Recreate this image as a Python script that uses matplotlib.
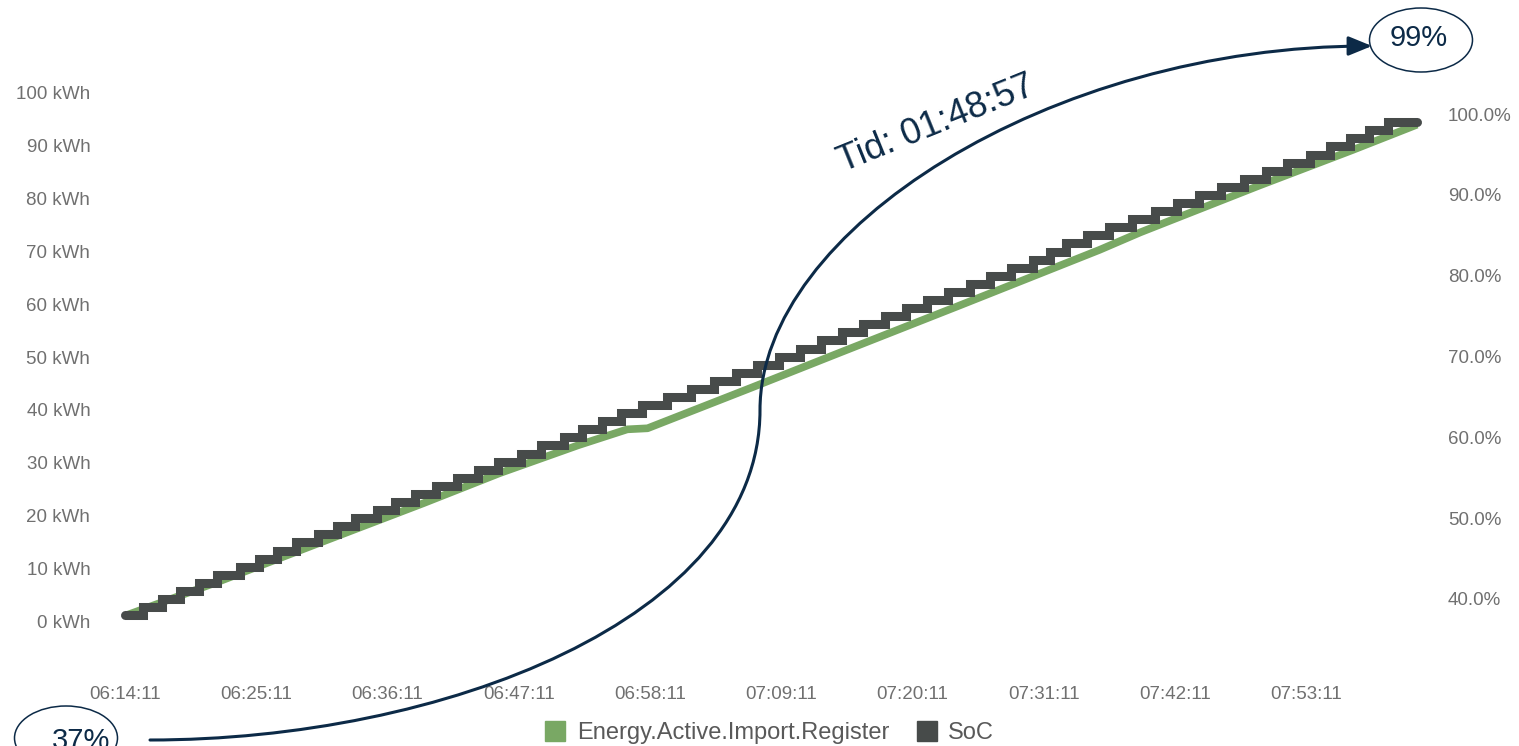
import numpy as np
import matplotlib
matplotlib.use("Agg")
import matplotlib.pyplot as plt
from matplotlib.path import Path
from matplotlib.patches import FancyArrowPatch, Ellipse
from matplotlib.lines import Line2D

plt.rcParams['font.family'] = ['Liberation Sans', 'DejaVu Sans']

# ---- data (minutes after 06:14:11) ----
time_labels = ["06:14:11", "06:25:11", "06:36:11", "06:47:11", "06:58:11",
               "07:09:11", "07:20:11", "07:31:11", "07:42:11", "07:53:11"]
tick_minutes = [0, 11, 22, 33, 44, 55, 66, 77, 88, 99]

energy_min = [0, 8, 16.3, 25, 31.4, 38, 42.1, 43.8, 52.4, 60, 70, 81.7, 85.1, 95, 102.9, 108.3]
energy_kwh = [1.0, 7.6, 14.8, 22.3, 28.0, 33.3, 36.3, 36.5, 44.1, 50.9, 59.8, 70.3, 73.6, 82.4, 89.2, 94.0]

# time (min) at which each SoC level is first reported
soc_min = [0.0, 1.5, 3.1, 4.6, 6.2, 7.7, 9.6, 11.2, 12.7, 14.3,
           16.2, 17.8, 19.3, 21.1, 22.6, 24.3, 26.1, 27.8, 29.6, 31.3,
           33.2, 34.9, 36.8, 38.3, 40.0, 41.6, 43.3, 45.4, 47.4, 49.4,
           51.2, 53.0, 54.8, 56.6, 58.3, 60.1, 61.9, 63.7, 65.5, 67.2,
           69.0, 70.8, 72.5, 74.3, 76.1, 77.5, 78.9, 80.6, 82.5, 84.4,
           86.3, 88.2, 90.0, 91.9, 93.8, 95.6, 97.4, 99.3, 101.0, 102.7,
           104.3, 105.9, 108.3]
soc_pct = [38, 39, 40, 41, 42, 43, 44, 45, 46, 47,
           48, 49, 50, 51, 52, 53, 54, 55, 56, 57,
           58, 59, 60, 61, 62, 63, 64, 65, 66, 67,
           68, 69, 70, 71, 72, 73, 74, 75, 76, 77,
           78, 79, 80, 81, 82, 83, 84, 85, 86, 87,
           88, 89, 90, 91, 92, 93, 94, 95, 96, 97,
           98, 99, 99]

kwh_ticks = [0, 10, 20, 30, 40, 50, 60, 70, 80, 90, 100]
pct_ticks = [40, 50, 60, 70, 80, 90, 100]

GREEN = '#79a864'
DARK = '#474b4a'
NAVY = '#0c2a47'
GREY = '#707070'

W, H = 1519, 746
fig = plt.figure(figsize=(W / 100, H / 100), dpi=100)
ax = fig.add_axes([100 / W, 1 - 665 / H, (1438 - 100) / W, (665 - 80) / H])
ax2 = ax.twinx()

ax.plot(energy_min, energy_kwh, color=GREEN, lw=5.5, solid_capstyle='butt')
ax2.plot(soc_min, soc_pct, color=DARK, lw=6.5, drawstyle='steps-post',
         solid_capstyle='round', solid_joinstyle='miter')

ax.set_xlim(-2.1, 110.06)
ax.set_ylim(-8.33, 102.46)
ax2.set_ylim(31.83, 104.23)

ax.set_xticks(tick_minutes)
ax.set_xticklabels(time_labels)
ax.set_yticks(kwh_ticks)
ax.set_yticklabels([f"{v} kWh" for v in kwh_ticks])
ax2.set_yticks(pct_ticks)
ax2.set_yticklabels([f"{v:.1f}%" for v in pct_ticks])

for a in (ax, ax2):
    for s in a.spines.values():
        s.set_visible(False)
    a.tick_params(length=0, labelsize=13.5, labelcolor=GREY)
ax.tick_params(axis='x', pad=15)
ax.tick_params(axis='y', pad=7)
ax2.tick_params(axis='y', pad=7)

# legend
handles = [Line2D([], [], ls='none', marker='s', ms=15, color=GREEN),
           Line2D([], [], ls='none', marker='s', ms=15, color=DARK)]
fig.legend(handles, ["Energy.Active.Import.Register", "SoC"], loc='center',
           bbox_to_anchor=(770 / W, 1 - 733 / H), ncol=2, frameon=False,
           fontsize=17, labelcolor='#595959', handlelength=0.8, handletextpad=0.5,
           columnspacing=1.2, borderpad=0)


# ---- annotation: curved arrow with ellipses ----
def fx(p):
    return (p[0] / W, 1 - p[1] / H)


pts = [(150, 740), (440, 740), (760, 620), (760, 410),
       (760, 230), (1050, 46), (1372, 46)]
codes = [Path.MOVETO] + [Path.CURVE4] * 6
arrow = FancyArrowPatch(path=Path([fx(p) for p in pts], codes),
                        arrowstyle='-|>,head_length=1.1,head_width=0.45',
                        mutation_scale=13, lw=2.2, color=NAVY,
                        transform=fig.transFigure)
fig.add_artist(arrow)

for c, txt, tc in [((1421, 40), "99%", (1419, 38)), ((66, 738), "37%", (81, 741))]:
    e = Ellipse(fx(c), 103 / W, 64 / H, transform=fig.transFigure,
                fill=False, ec=NAVY, lw=1.1)
    fig.add_artist(e)
    fig.text(*fx(tc), txt, ha='center', va='center', fontsize=21, color=NAVY)

fig.text(*fx((936, 124)), "Tid: 01:48:57", ha='center', va='center',
         rotation=22, rotation_mode='anchor', fontsize=26, color=NAVY)

fig.savefig("out.png", dpi=100)
